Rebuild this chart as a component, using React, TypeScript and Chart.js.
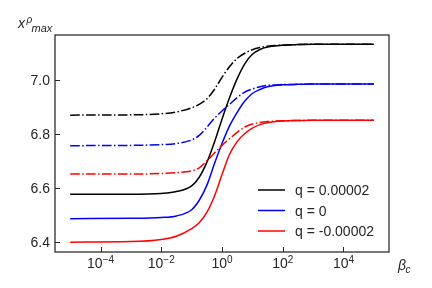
import React, { useEffect, useRef } from "react";
import { Chart, registerables } from "chart.js";

Chart.register(...registerables);

// x positions: log10(beta_c)
const logBeta = [-5, -3, -2, -1.5, -1, -0.75, -0.5, -0.25, 0, 0.25, 0.5, 0.75, 1, 1.25, 1.5, 2, 2.5, 3, 5];

// series values
const blackSolid = [6.577, 6.577, 6.58, 6.587, 6.608, 6.64, 6.695, 6.77, 6.855, 6.935, 7.005, 7.06, 7.095, 7.113, 7.122, 7.129, 7.131, 7.132, 7.132];
const blackDashDot = [6.87, 6.871, 6.875, 6.882, 6.897, 6.91, 6.93, 6.965, 7.01, 7.05, 7.08, 7.099, 7.112, 7.12, 7.125, 7.129, 7.131, 7.132, 7.132];
const blueSolid = [6.487, 6.488, 6.491, 6.497, 6.52, 6.555, 6.61, 6.69, 6.765, 6.83, 6.88, 6.922, 6.95, 6.965, 6.975, 6.982, 6.984, 6.985, 6.985];
const blueDashDot = [6.757, 6.758, 6.761, 6.765, 6.778, 6.795, 6.825, 6.858, 6.885, 6.91, 6.935, 6.955, 6.967, 6.975, 6.98, 6.983, 6.984, 6.985, 6.985];
const redSolid = [6.4, 6.402, 6.41, 6.422, 6.45, 6.472, 6.51, 6.57, 6.65, 6.725, 6.772, 6.802, 6.822, 6.835, 6.842, 6.848, 6.85, 6.851, 6.851];
const redDashDot = [6.652, 6.652, 6.654, 6.657, 6.664, 6.675, 6.7, 6.73, 6.758, 6.783, 6.806, 6.826, 6.837, 6.843, 6.846, 6.849, 6.85, 6.851, 6.851];

const legendLabels = ["q = 0.00002", "q = 0", "q = -0.00002"];
const seriesColors = ["#000000", "#0000ff", "#ff0000"];

const xTickExponents = [-4, -2, 0, 2, 4];
const yTickValues = [6.4, 6.6, 6.8, 7.0];

const FONT = '"Liberation Sans", Arial, sans-serif';
const INK = "#262626";

const toPoints = (vals: number[]) => logBeta.map((e, i) => ({ x: Math.pow(10, e), y: vals[i] }));

const decorPlugin = {
  id: "decor",
  afterDraw(chart: any) {
    const { ctx, chartArea: a, scales } = chart;
    const xs = scales.x;
    const ys = scales.y;
    ctx.save();
    // frame
    ctx.strokeStyle = INK;
    ctx.lineWidth = 1.25;
    ctx.strokeRect(a.left, a.top, a.right - a.left, a.bottom - a.top);
    // inward ticks
    ctx.lineWidth = 1;
    ctx.beginPath();
    for (const e of xTickExponents) {
      const px = Math.round(xs.getPixelForValue(Math.pow(10, e))) + 0.5;
      ctx.moveTo(px, a.bottom);
      ctx.lineTo(px, a.bottom - 5);
    }
    for (const v of yTickValues) {
      const py = Math.round(ys.getPixelForValue(v)) + 0.5;
      ctx.moveTo(a.left, py);
      ctx.lineTo(a.left + 5, py);
    }
    ctx.stroke();

    ctx.fillStyle = INK;
    ctx.textBaseline = "alphabetic";
    // x tick labels
    for (const e of xTickExponents) {
      const px = xs.getPixelForValue(Math.pow(10, e));
      const exp = e < 0 ? "\u2212" + Math.abs(e) : String(e);
      ctx.font = `14px ${FONT}`;
      const w1 = ctx.measureText("10").width;
      ctx.font = `10px ${FONT}`;
      const w2 = ctx.measureText(exp).width;
      const start = px - (w1 + w2) / 2;
      ctx.textAlign = "left";
      ctx.font = `14px ${FONT}`;
      ctx.fillText("10", start, 268);
      ctx.font = `10px ${FONT}`;
      ctx.fillText(exp, start + w1, 263);
    }
    // y tick labels
    ctx.textAlign = "right";
    ctx.font = `14px ${FONT}`;
    for (const v of yTickValues) {
      const py = ys.getPixelForValue(v);
      ctx.fillText(v.toFixed(1), a.left - 5, py + 5);
    }
    // y axis title
    ctx.textAlign = "left";
    ctx.font = `italic 14px ${FONT}`;
    ctx.fillText("x", 18, 28);
    ctx.font = `italic 10px ${FONT}`;
    ctx.fillText("\u03c1", 26.5, 23);
    ctx.font = `italic 11px ${FONT}`;
    ctx.fillText("max", 31.5, 32);
    // x axis title
    ctx.font = `italic 14px ${FONT}`;
    ctx.fillText("\u03b2", 398, 270);
    ctx.font = `italic 10px ${FONT}`;
    ctx.fillText("c", 405.5, 273);
    // legend
    const rows = [190, 210.5, 231];
    legendLabels.forEach((lab, i) => {
      const y = rows[i];
      ctx.strokeStyle = seriesColors[i];
      ctx.lineWidth = 1.5;
      ctx.beginPath();
      ctx.moveTo(258, y);
      ctx.lineTo(285, y);
      ctx.stroke();
      ctx.fillStyle = INK;
      ctx.font = `14px ${FONT}`;
      ctx.fillText(lab, 295, y + 5);
    });
    ctx.restore();
  },
};

export default function App() {
  const ref = useRef<HTMLCanvasElement | null>(null);
  useEffect(() => {
    if (!ref.current) return;
    const dash = [9.6, 2.4, 1.5, 2.4];
    const mk = (vals: number[], color: string, dashed: boolean, label: string) => ({
      label,
      data: toPoints(vals),
      borderColor: color,
      backgroundColor: color,
      borderWidth: 1.5,
      borderDash: dashed ? dash : [],
      pointRadius: 0,
      cubicInterpolationMode: "monotone" as const,
      fill: false,
    });
    const chart = new Chart(ref.current, {
      type: "line",
      data: {
        datasets: [
          mk(blackDashDot, seriesColors[0], true, "black dash-dot"),
          mk(blueDashDot, seriesColors[1], true, "blue dash-dot"),
          mk(redDashDot, seriesColors[2], true, "red dash-dot"),
          mk(blackSolid, seriesColors[0], false, legendLabels[0]),
          mk(blueSolid, seriesColors[1], false, legendLabels[1]),
          mk(redSolid, seriesColors[2], false, legendLabels[2]),
        ],
      },
      options: {
        animation: false,
        responsive: false,
        devicePixelRatio: 1,
        layout: { padding: { top: 35, right: 43, left: 0, bottom: 0 } },
        plugins: { legend: { display: false }, tooltip: { enabled: false } },
        scales: {
          x: {
            type: "logarithmic",
            min: Math.pow(10, -5.5),
            max: Math.pow(10, 5.5),
            grid: { display: false },
            border: { display: false },
            ticks: { display: false },
            afterFit: (s: any) => {
              s.height = 36;
            },
          },
          y: {
            type: "linear",
            min: 6.3635,
            max: 7.1665,
            grid: { display: false },
            border: { display: false },
            ticks: { display: false },
            afterFit: (s: any) => {
              s.width = 55;
            },
          },
        },
      },
      plugins: [decorPlugin],
    });
    return () => chart.destroy();
  }, []);
  return (
    <div style={{ position: "absolute", left: 0, top: 0, width: 432, height: 288, background: "#fff" }}>
      <canvas ref={ref} width={432} height={288} />
    </div>
  );
}
